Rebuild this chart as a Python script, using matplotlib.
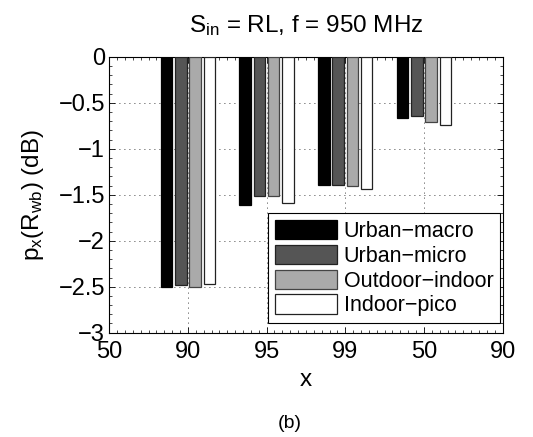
import numpy as np
import matplotlib
matplotlib.use("Agg")
import matplotlib.pyplot as plt
from matplotlib.ticker import MultipleLocator

plt.rcParams.update({"font.family": "Liberation Sans", "mathtext.fontset": "custom",
                     "mathtext.rm": "Liberation Sans", "mathtext.it": "Liberation Sans",
                     "font.size": 16})

# data
groups = [1, 2, 3, 4]
tick_pos = [0, 1, 2, 3, 4, 5]
tick_labels = ["50", "90", "95", "99", "50", "90"]
series = ["Urban\u2212macro", "Urban\u2212micro", "Outdoor\u2212indoor", "Indoor\u2212pico"]
urban_macro = [-2.50, -1.61, -1.39, -0.66]
urban_micro = [-2.48, -1.51, -1.39, -0.64]
outdoor_indoor = [-2.50, -1.51, -1.40, -0.71]
indoor_pico = [-2.47, -1.59, -1.44, -0.74]

values = [urban_macro, urban_micro, outdoor_indoor, indoor_pico]
fills = ["#000000", "#555555", "#aaaaaa", "#ffffff"]
edges = ["#000000", "#222222", "#444444", "#222222"]

fig = plt.figure(figsize=(5.33, 4.37), dpi=100)
ax = fig.add_axes([0.205, 0.2387, 0.738, 0.6313])

n = len(values)
gw = n / (n + 1.5)
step = gw / n
x = np.array(groups, dtype=float)
for i, (vals, fc, ec, lab) in enumerate(zip(values, fills, edges, series)):
    off = (i - (n - 1) / 2) * step
    ax.bar(x + off, vals, width=step * 0.8, color=fc, edgecolor=ec, linewidth=0.9,
           label=lab, zorder=3)

ax.set_xlim(0, 5)
ax.set_ylim(-3, 0)
ax.set_xticks(tick_pos)
ax.set_xticklabels(tick_labels)
ax.set_yticks([-3, -2.5, -2, -1.5, -1, -0.5, 0])
ax.set_yticklabels(["\u22123", "\u22122.5", "\u22122", "\u22121.5", "\u22121", "\u22120.5", "0"])
ax.xaxis.set_minor_locator(MultipleLocator(0.1))
ax.yaxis.set_minor_locator(MultipleLocator(0.1))
ax.tick_params(which="both", direction="in", top=True, right=True, labelsize=17)
ax.tick_params(axis="x", pad=6)
ax.tick_params(axis="y", pad=3)
ax.tick_params(which="major", length=4, width=0.6)
ax.tick_params(which="minor", length=2, width=0.5)
ax.grid(True, which="major", color="black", linestyle=(0, (1, 5)), linewidth=0.6, zorder=0)
ax.set_axisbelow(True)
for s in ax.spines.values():
    s.set_linewidth(0.8)

ax.set_title(r"S$_{\rm in}$ = RL, f = 950 MHz", fontsize=17.5, pad=18)
ax.set_ylabel(r"p$_{\rm x}$(R$_{\rm wb}$) (dB)", fontsize=17.5, labelpad=9)
ax.set_xlabel("x", fontsize=17.5, labelpad=4)

leg = ax.legend(loc="lower right", bbox_to_anchor=(0.939, 0.26), bbox_transform=fig.transFigure,
                fancybox=False, edgecolor="black", framealpha=1, fontsize=15.5,
                handlelength=2.9, handleheight=1.0, labelspacing=0.13, borderpad=0.32,
                handletextpad=0.3, borderaxespad=0)
leg.get_frame().set_linewidth(0.8)
leg.set_zorder(5)

fig.text(0.544, 0.032, "(b)", ha="center", va="center", fontsize=14)

fig.savefig("out.png", dpi=100)
